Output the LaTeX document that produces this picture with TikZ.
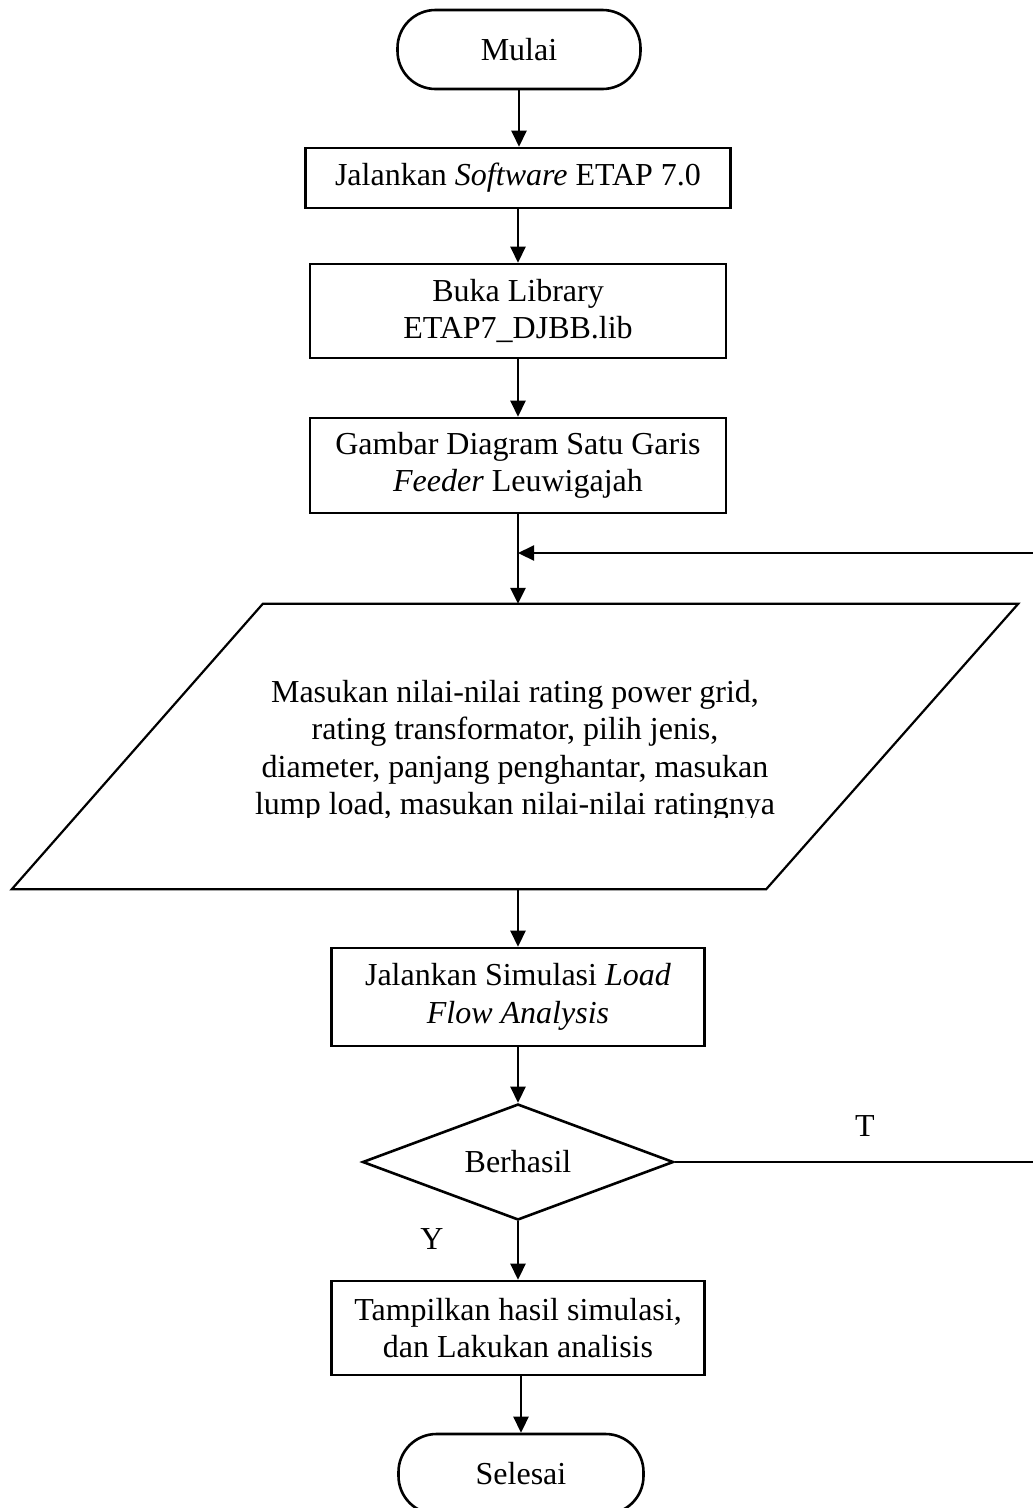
\documentclass[tikz,border=0pt]{standalone}
\usepackage{fontspec}
\setmainfont{Liberation Serif}
\usetikzlibrary{shapes.geometric,arrows.meta,calc}

\begin{document}
\begin{tikzpicture}[x=1pt,y=-1pt,
  every node/.style={font=\fontsize{32}{37.5}\selectfont, align=center, inner sep=0pt},
  procbox/.style={draw, line width=2.6pt, rectangle},
  termbox/.style={draw, line width=2.6pt, rectangle, rounded corners=38pt},
  decbox/.style={draw, line width=2.6pt, diamond, aspect=2.68},
  conn/.style={line width=2.5pt},
  arr/.style={conn, -{Triangle[length=16pt,width=15pt]}}]

\useasboundingbox (0,0) rectangle (1033,1508);
\clip (0,0) rectangle (1033,1508);

% flow steps
\node[termbox, minimum width=243pt, minimum height=79pt] (start) at (519,49.5) {Mulai};
\node[procbox, minimum width=425pt, minimum height=60pt] (run) at (518,178) {Jalankan \textit{Software} ETAP 7.0};
\node[procbox, minimum width=416pt, minimum height=94pt] (lib) at (518,311) {Buka Library\\ETAP7\_DJBB.lib};
\node[procbox, minimum width=416pt, minimum height=95pt] (sld) at (518,465.5) {Gambar Diagram Satu Garis\\\textit{Feeder} Leuwigajah};
\coordinate (join) at (518,553);

% input parallelogram
\node[minimum width=503pt, minimum height=285pt] (inp) at (514.5,746.5) {};
\draw[line width=2.2pt] (inp.north west) -- ($(inp.north east)+(252,0)$) -- (inp.south east)
  -- ($(inp.south west)+(-251,0)$) -- cycle;
\begin{scope}
  \clip (0,600) rectangle (1033,817.5);
  \node (inptext) at (515,751) {Masukan nilai-nilai rating power grid,\\rating transformator, pilih jenis,\\diameter, panjang penghantar, masukan\\lump load, masukan nilai-nilai ratingnya};
\end{scope}

\node[procbox, minimum width=373pt, minimum height=98pt] (sim) at (518,997) {Jalankan Simulasi \textit{Load}\\\textit{Flow Analysis}};
\node[decbox, minimum width=311pt, minimum height=116pt] (ok) at (518,1162) {Berhasil};
\node[procbox, minimum width=373pt, minimum height=94pt] (show) at (518,1328) {Tampilkan hasil simulasi,\\dan Lakukan analisis};
\node[termbox, minimum width=245pt, minimum height=80pt] (stop) at (521,1474) {Selesai};

% branch labels
\node (tlabel) at (865,1126) {T};
\node (ylabel) at (432,1239) {Y};

% connectors
\draw[arr] (start) -- (start |- run.north);
\draw[arr] (run) -- (lib);
\draw[arr] (lib) -- (sld);
\draw[conn] (sld.south) -- (join);
\draw[arr] (join) -- (join |- inp.north);
\draw[arr] (sim.north |- inp.south) -- (sim.north);
\draw[arr] (sim) -- (ok);
\draw[arr] (ok) -- (show);
\draw[arr] (stop.north |- show.south) -- (stop.north);
\draw[conn, line width=2.2pt, -{Triangle[length=16pt,width=15pt]}] (ok.east) -- ++(527,0) |- (join);
\end{tikzpicture}
\end{document}
